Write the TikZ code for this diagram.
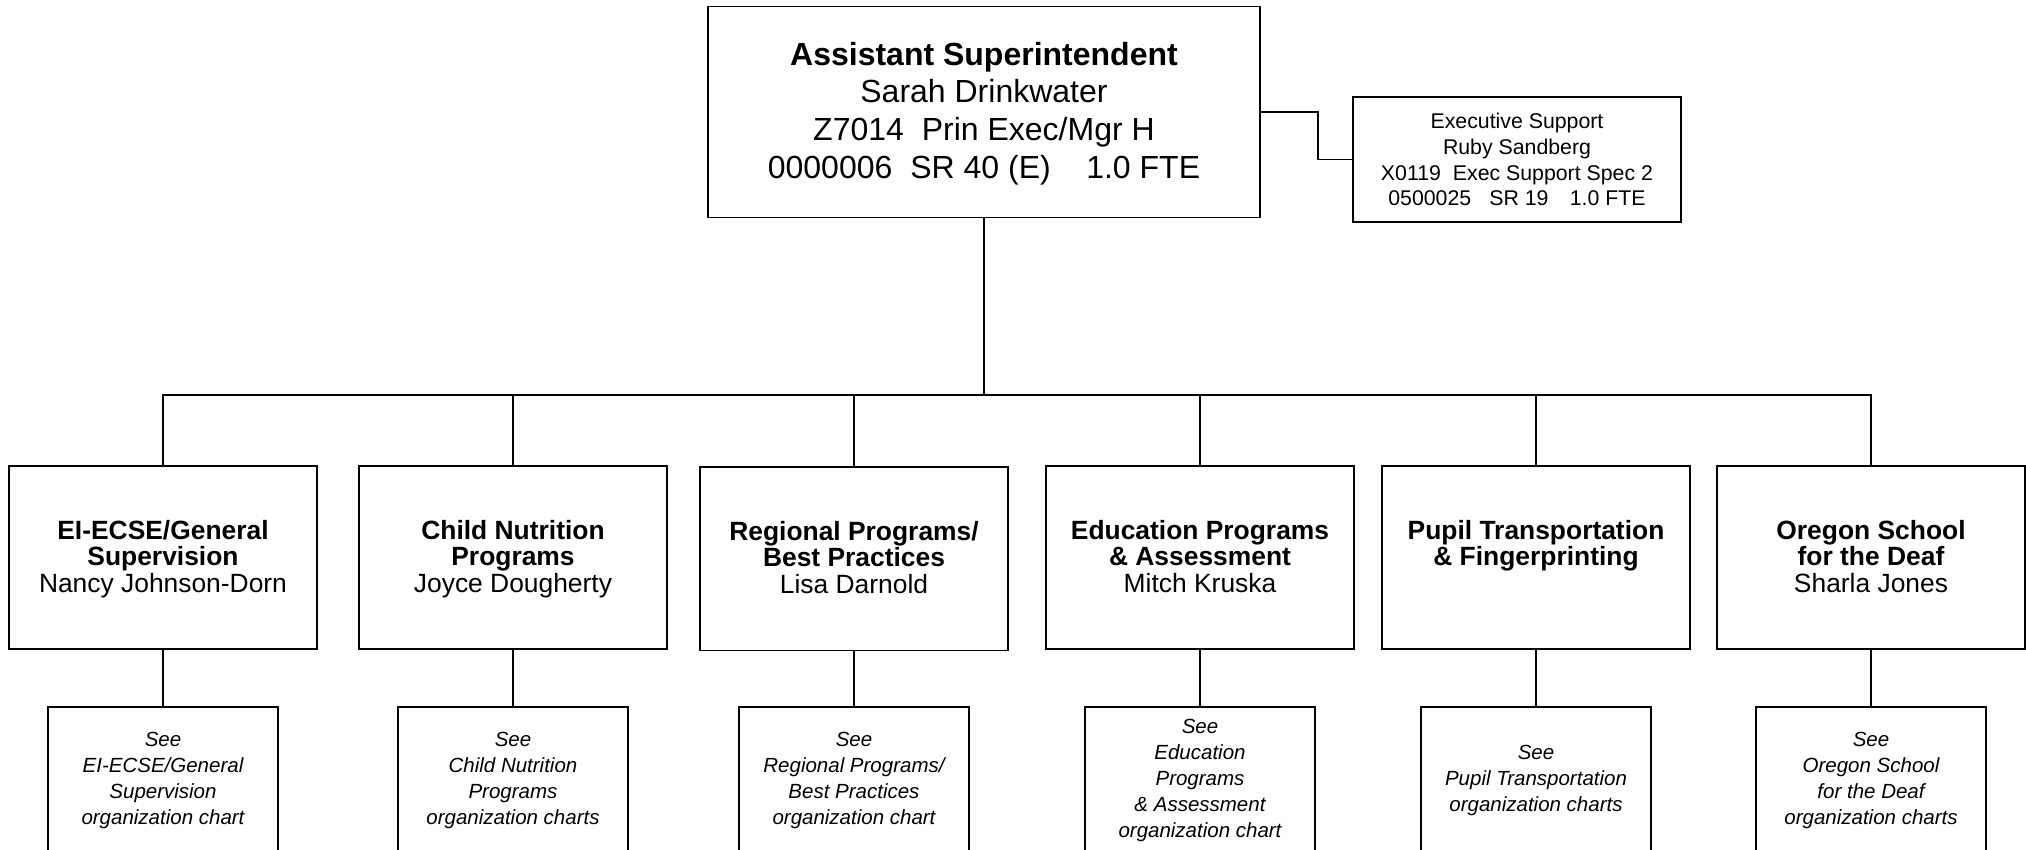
\documentclass[tikz,border=0pt]{standalone}
\usepackage{fontspec}
\setmainfont{Liberation Sans}
\begin{document}
\begin{tikzpicture}[x=0.5pt,y=-0.5pt,
  box/.style={draw, line width=0.8pt, inner sep=0pt, outer sep=0pt},
  topbox/.style={box, minimum width=276pt, minimum height=105.5pt, align=center, font=\fontsize{16pt}{18.8pt}\selectfont},
  toptext/.style={align=center, inner sep=0pt, font=\fontsize{16pt}{18.8pt}\selectfont},
  execbox/.style={box, minimum width=164pt, minimum height=62.5pt, align=center, font=\fontsize{10.65pt}{12.9pt}\selectfont},
  unitbox/.style={box, minimum width=154pt, minimum height=91.5pt},
  unittext/.style={anchor=north, align=center, inner sep=0pt, font=\fontsize{13.2pt}{13.25pt}\selectfont},
  seebox/.style={box, minimum width=115pt, minimum height=80pt, anchor=north},
  seetext/.style={align=center, inner sep=0pt, font=\itshape\fontsize{10.25pt}{12.9pt}\selectfont},
  link/.style={line width=0.7pt}]
\useasboundingbox (0,0) rectangle (2026,850);

% top
\node[topbox] (top) at (984,112) {};
\node[toptext] (toplabel) at (984,113.5) {\textbf{Assistant Superintendent}\\Sarah Drinkwater\\Z7014\hspace{0.56em}Prin Exec/Mgr H\\0000006\hspace{0.56em}SR 40 (E)\hspace{1.11em}1.0 FTE};
\node[execbox] (exec) at (1517,159.5) {Executive Support\\Ruby Sandberg\\X0119\hspace{0.56em}Exec Support Spec 2\\0500025\hspace{0.85em}SR 19\hspace{1.0em}1.0 FTE};
\coordinate (kink) at (1318,135);
\draw[link] (top.east) -| (kink) |- (exec.west);

% units
\node[unitbox] (m1) at (163,557.5) {};
\node[unitbox] (m2) at (513,557.5) {};
\node[unitbox] (m3) at (854,558.8) {};
\node[unitbox] (m4) at (1200,557.5) {};
\node[unitbox] (m5) at (1536,557.5) {};
\node[unitbox] (m6) at (1871,557.5) {};

\node[unittext] (t1) at (163,519.5) {\textbf{EI-ECSE/General}\\\textbf{Supervision}\\Nancy Johnson-Dorn};
\node[unittext] (t2) at (513,519.5) {\textbf{Child Nutrition}\\\textbf{Programs}\\Joyce Dougherty};
\node[unittext] (t3) at (854,520.5) {\textbf{Regional Programs/}\\\textbf{Best Practices}\\Lisa Darnold};
\node[unittext] (t4) at (1200,519.5) {\textbf{Education Programs}\\\textbf{\& Assessment}\\Mitch Kruska};
\node[unittext] (t5) at (1536,519.5) {\textbf{Pupil Transportation}\\\textbf{\& Fingerprinting}};
\node[unittext] (t6) at (1871,519.5) {\textbf{Oregon School}\\\textbf{for the Deaf}\\Sharla Jones};

% see boxes
\node[seebox] (b1) at (163,707) {};
\node[seebox] (b2) at (513,707) {};
\node[seebox] (b3) at (854,707) {};
\node[seebox] (b4) at (1200,707) {};
\node[seebox] (b5) at (1536,707) {};
\node[seebox] (b6) at (1871,707) {};

\node[seetext] (s1) at (163,780.5) {See\\EI-ECSE/General\\Supervision\\organization chart};
\node[seetext] (s2) at (513,780.5) {See\\Child Nutrition\\Programs\\organization charts};
\node[seetext] (s3) at (854,780.5) {See\\Regional Programs/\\Best Practices\\organization chart};
\node[seetext] (s4) at (1200,780.5) {See\\Education\\Programs\\\& Assessment\\organization chart};
\node[seetext] (s5) at (1536,780.5) {See\\Pupil Transportation\\organization charts};
\node[seetext] (s6) at (1871,780.5) {See\\Oregon School\\for the Deaf\\organization charts};

% connectors
\coordinate (bus) at (984,395);
\draw[link] (top.south) -- (bus);
\draw[link] (m1.north) -- (m1.north |- bus) -- (m6.north |- bus) -- (m6.north);
\draw[link] (m2.north) -- (m2.north |- bus);
\draw[link] (m3.north) -- (m3.north |- bus);
\draw[link] (m4.north) -- (m4.north |- bus);
\draw[link] (m5.north) -- (m5.north |- bus);
\draw[link] (m1.south) -- (b1.north);
\draw[link] (m2.south) -- (b2.north);
\draw[link] (m3.south) -- (b3.north);
\draw[link] (m4.south) -- (b4.north);
\draw[link] (m5.south) -- (b5.north);
\draw[link] (m6.south) -- (b6.north);
\end{tikzpicture}
\end{document}
